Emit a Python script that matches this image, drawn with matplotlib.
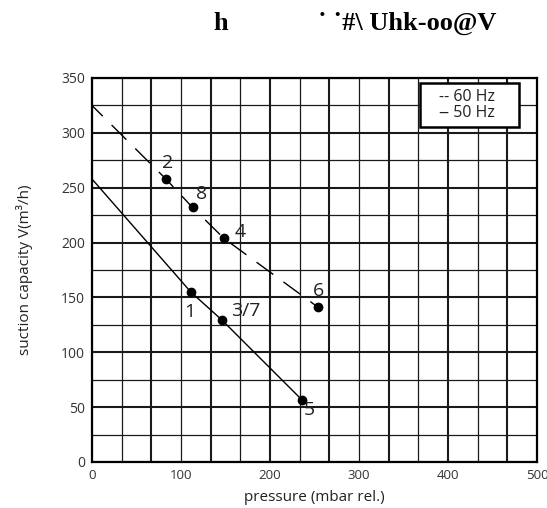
import matplotlib.pyplot as plt
from matplotlib.patches import Rectangle
import numpy as np

# 60 Hz curve (dashed)
p60 = [0, 83, 113, 148, 254]
v60 = [325, 258, 232, 204, 141]
pts60_p = [83, 113, 148, 254]
pts60_v = [258, 232, 204, 141]
lbl60 = ["2", "8", "4", "6"]

# 50 Hz curve (solid)
p50 = [0, 111, 146.5, 236]
v50 = [258, 155, 129, 56.5]
pts50_p = [111, 146.5, 236]
pts50_v = [155, 129, 56.5]
lbl50 = ["1", "3/7", "5"]

xticks = [0, 100, 200, 300, 400, 500]
yticks = [0, 50, 100, 150, 200, 250, 300, 350]

# label offsets in points (dx, dy)
off60 = [(1.5, 11.5), (6.5, 9.5), (12, 4.5), (0, 11.5)]
off50 = [(-1, -14.5), (17, 6.5), (5, -7.5)]

plt.rcParams['font.family'] = ['Open Sans', 'DejaVu Sans']

fig = plt.figure(figsize=(5.47, 5.08), dpi=100)
ax = fig.add_axes([0.168, 0.0906, 0.814, 0.7559])

# grid
for i, x in enumerate(np.linspace(0, 500, 16)):
    ax.axvline(x, color='#1a1a1a', lw=1.5 if i % 2 == 0 else 0.9, zorder=1)
for i, y in enumerate(np.arange(0, 351, 25)):
    ax.axhline(y, color='#1a1a1a', lw=1.5 if i % 2 == 0 else 0.9, zorder=1)

ax.plot(p60, v60, color='black', lw=1.0, linestyle=(4, (15, 9)), zorder=3)
ax.plot(p50, v50, color='black', lw=1.0, zorder=3)
ax.plot(pts60_p, pts60_v, 'o', color='black', ms=6, zorder=4)
ax.plot(pts50_p, pts50_v, 'o', color='black', ms=6, zorder=4)

for x, y, t, o in zip(pts60_p + pts50_p, pts60_v + pts50_v, lbl60 + lbl50, off60 + off50):
    ax.annotate(t, (x, y), xytext=o, textcoords='offset points',
                ha='center', va='center', fontsize=14, color='#222222', zorder=5)

ax.set_xlim(0, 500)
ax.set_ylim(0, 350)
ax.set_xticks(xticks)
ax.set_yticks(yticks)
ax.tick_params(length=0, labelsize=10, pad=5, labelcolor='#333333')
ax.tick_params(axis='x', labelsize=9.5)
for s in ax.spines.values():
    s.set_linewidth(1.6)

ax.set_xlabel("pressure (mbar rel.)", fontsize=11, labelpad=6, color='#222222')
ax.set_ylabel("suction capacity V(m³/h)", fontsize=11, labelpad=20, color='#222222')

# legend box
ax.add_patch(Rectangle((0.737, 0.872), 0.223, 0.115, transform=ax.transAxes,
                       fc='white', ec='black', lw=1.8, zorder=6))
ax.text(0.843, 0.929, "-- 60 Hz\n\u2012 50 Hz", transform=ax.transAxes,
        ha='center', va='center', fontsize=11.5, linespacing=1.0, zorder=7,
        color='#222222')

fig.text(213 / 547, 0.941, "h", fontfamily='Liberation Serif', fontweight='bold',
         fontsize=19, va='baseline')
fig.text(318 / 547, 0.941, "\u02d9 \u02d9#\\ Uhk-oo@V", fontfamily='Liberation Serif',
         fontweight='bold', fontsize=19, va='baseline')

fig.savefig("out.png", dpi=100)
